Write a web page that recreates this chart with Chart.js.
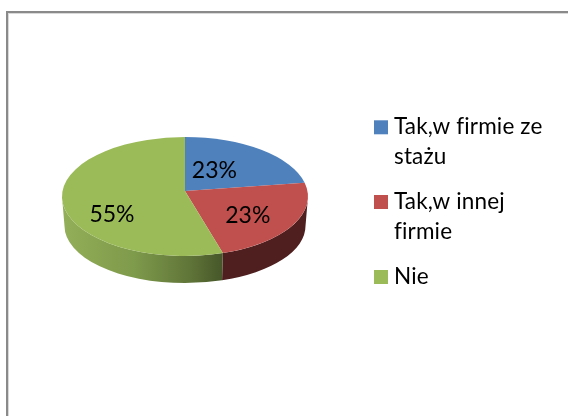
<!DOCTYPE html>
<html><head><meta charset="utf-8">
<style>html,body{margin:0;padding:0;background:#fff}canvas{display:block}</style>
<script src="https://cdn.jsdelivr.net/npm/chart.js@4"></script>
</head><body><canvas id="c" width="568" height="416"></canvas>
<script>
const categories = [["Tak,w firmie ze","stażu"],["Tak,w innej","firmie"],["Nie"]];
const values = [5,5,12];
const percentLabels = ["23%","23%","55%"];
const colors = ["#4F81BD","#C0504D","#9BBB59"];

const FONT = 'Lato, Carlito, sans-serif';
const top3d = {cx:185, cy:196.5, rx:123, ry:59.5};
const bot3d = {cx:185, cy:226, rx:120.5, ry:57};
const A = -0.092;
const labelShift = [[-9.4,1],[10,8.6],[-12,19]];
const legendBoxY = [120.3,195,270];

// perspective of the disc: unit-disc point -> point on the tilted ellipse
function proj(a,r){
  const u=r*Math.cos(a), v=r*Math.sin(a), d=1+A*v;
  return [u*Math.sqrt(1-A*A)/d,(v+A)/d];
}
function toPx(e,p){return [e.cx+e.rx*p[0],e.cy+e.ry*p[1]];}
function ellipseAngle(a){const p=proj(a,1);return Math.atan2(p[1],p[0]);}

const pie3d = {
  id:'pie3d',
  beforeDatasetsDraw(chart){
    const ctx=chart.ctx, arcs=chart.getDatasetMeta(0).data;
    ctx.save();
    // frame
    ctx.fillStyle='#8a8a8a';
    ctx.fillRect(6,11,562,2);
    ctx.fillRect(6,11,2,405);
    ctx.fillStyle='#d9d9d9';
    ctx.fillRect(8,13,560,1);
    ctx.fillRect(8,13,1,403);

    // side wall
    const gGreen=ctx.createLinearGradient(62,0,223,0);
    gGreen.addColorStop(0,'#93AF58');
    gGreen.addColorStop(.45,'#7E9A4B');
    gGreen.addColorStop(.8,'#5F7438');
    gGreen.addColorStop(1,'#465629');
    const wall=[null,'#4E1F1E',gGreen];
    arcs.forEach((arc,i)=>{
      if(!wall[i])return;
      let s=ellipseAngle(arc.startAngle), e=ellipseAngle(arc.endAngle);
      if(s<0&&s>-Math.PI/2)s=0;
      if(s<0)s+=2*Math.PI;
      if(e<0)e=Math.PI;
      s=Math.max(0,s); e=Math.min(Math.PI,e);
      if(e<=s)return;
      ctx.beginPath();
      ctx.ellipse(top3d.cx,top3d.cy,top3d.rx,top3d.ry,0,s,e,false);
      ctx.ellipse(bot3d.cx,bot3d.cy,bot3d.rx,bot3d.ry,0,e,s,true);
      ctx.closePath();
      ctx.fillStyle=wall[i];
      ctx.fill();
    });

    // top face
    arcs.forEach((arc,i)=>{
      const s=ellipseAngle(arc.startAngle), e=ellipseAngle(arc.endAngle);
      const c=toPx(top3d,[0,A]);
      ctx.beginPath();
      ctx.moveTo(c[0],c[1]);
      ctx.ellipse(top3d.cx,top3d.cy,top3d.rx,top3d.ry,0,s,e,false);
      ctx.closePath();
      ctx.fillStyle=colors[i];
      ctx.fill();
    });

    // percent labels
    ctx.fillStyle='#000';
    ctx.font='23px '+FONT;
    ctx.textAlign='center';
    ctx.textBaseline='middle';
    arcs.forEach((arc,i)=>{
      const p=toPx(top3d,proj((arc.startAngle+arc.endAngle)/2,.5));
      ctx.fillText(percentLabels[i],p[0]+labelShift[i][0],p[1]+labelShift[i][1]);
    });

    // legend
    ctx.textAlign='left';
    ctx.textBaseline='alphabetic';
    ctx.font='22.5px '+FONT;
    ctx.letterSpacing='0.15px';
    categories.forEach((lines,i)=>{
      ctx.fillStyle=colors[i];
      ctx.fillRect(374,legendBoxY[i],14,14);
      ctx.fillStyle='#000';
      lines.forEach((t,j)=>ctx.fillText(t,394,legendBoxY[i]+14+j*29.5));
    });
    ctx.restore();
    return false;
  }
};

new Chart(document.getElementById('c'),{
  type:'pie',
  data:{labels:categories,datasets:[{data:values,backgroundColor:colors,borderWidth:0}]},
  options:{responsive:false,animation:false,plugins:{legend:{display:false},tooltip:{enabled:false}}},
  plugins:[pie3d]
});
</script></body></html>
